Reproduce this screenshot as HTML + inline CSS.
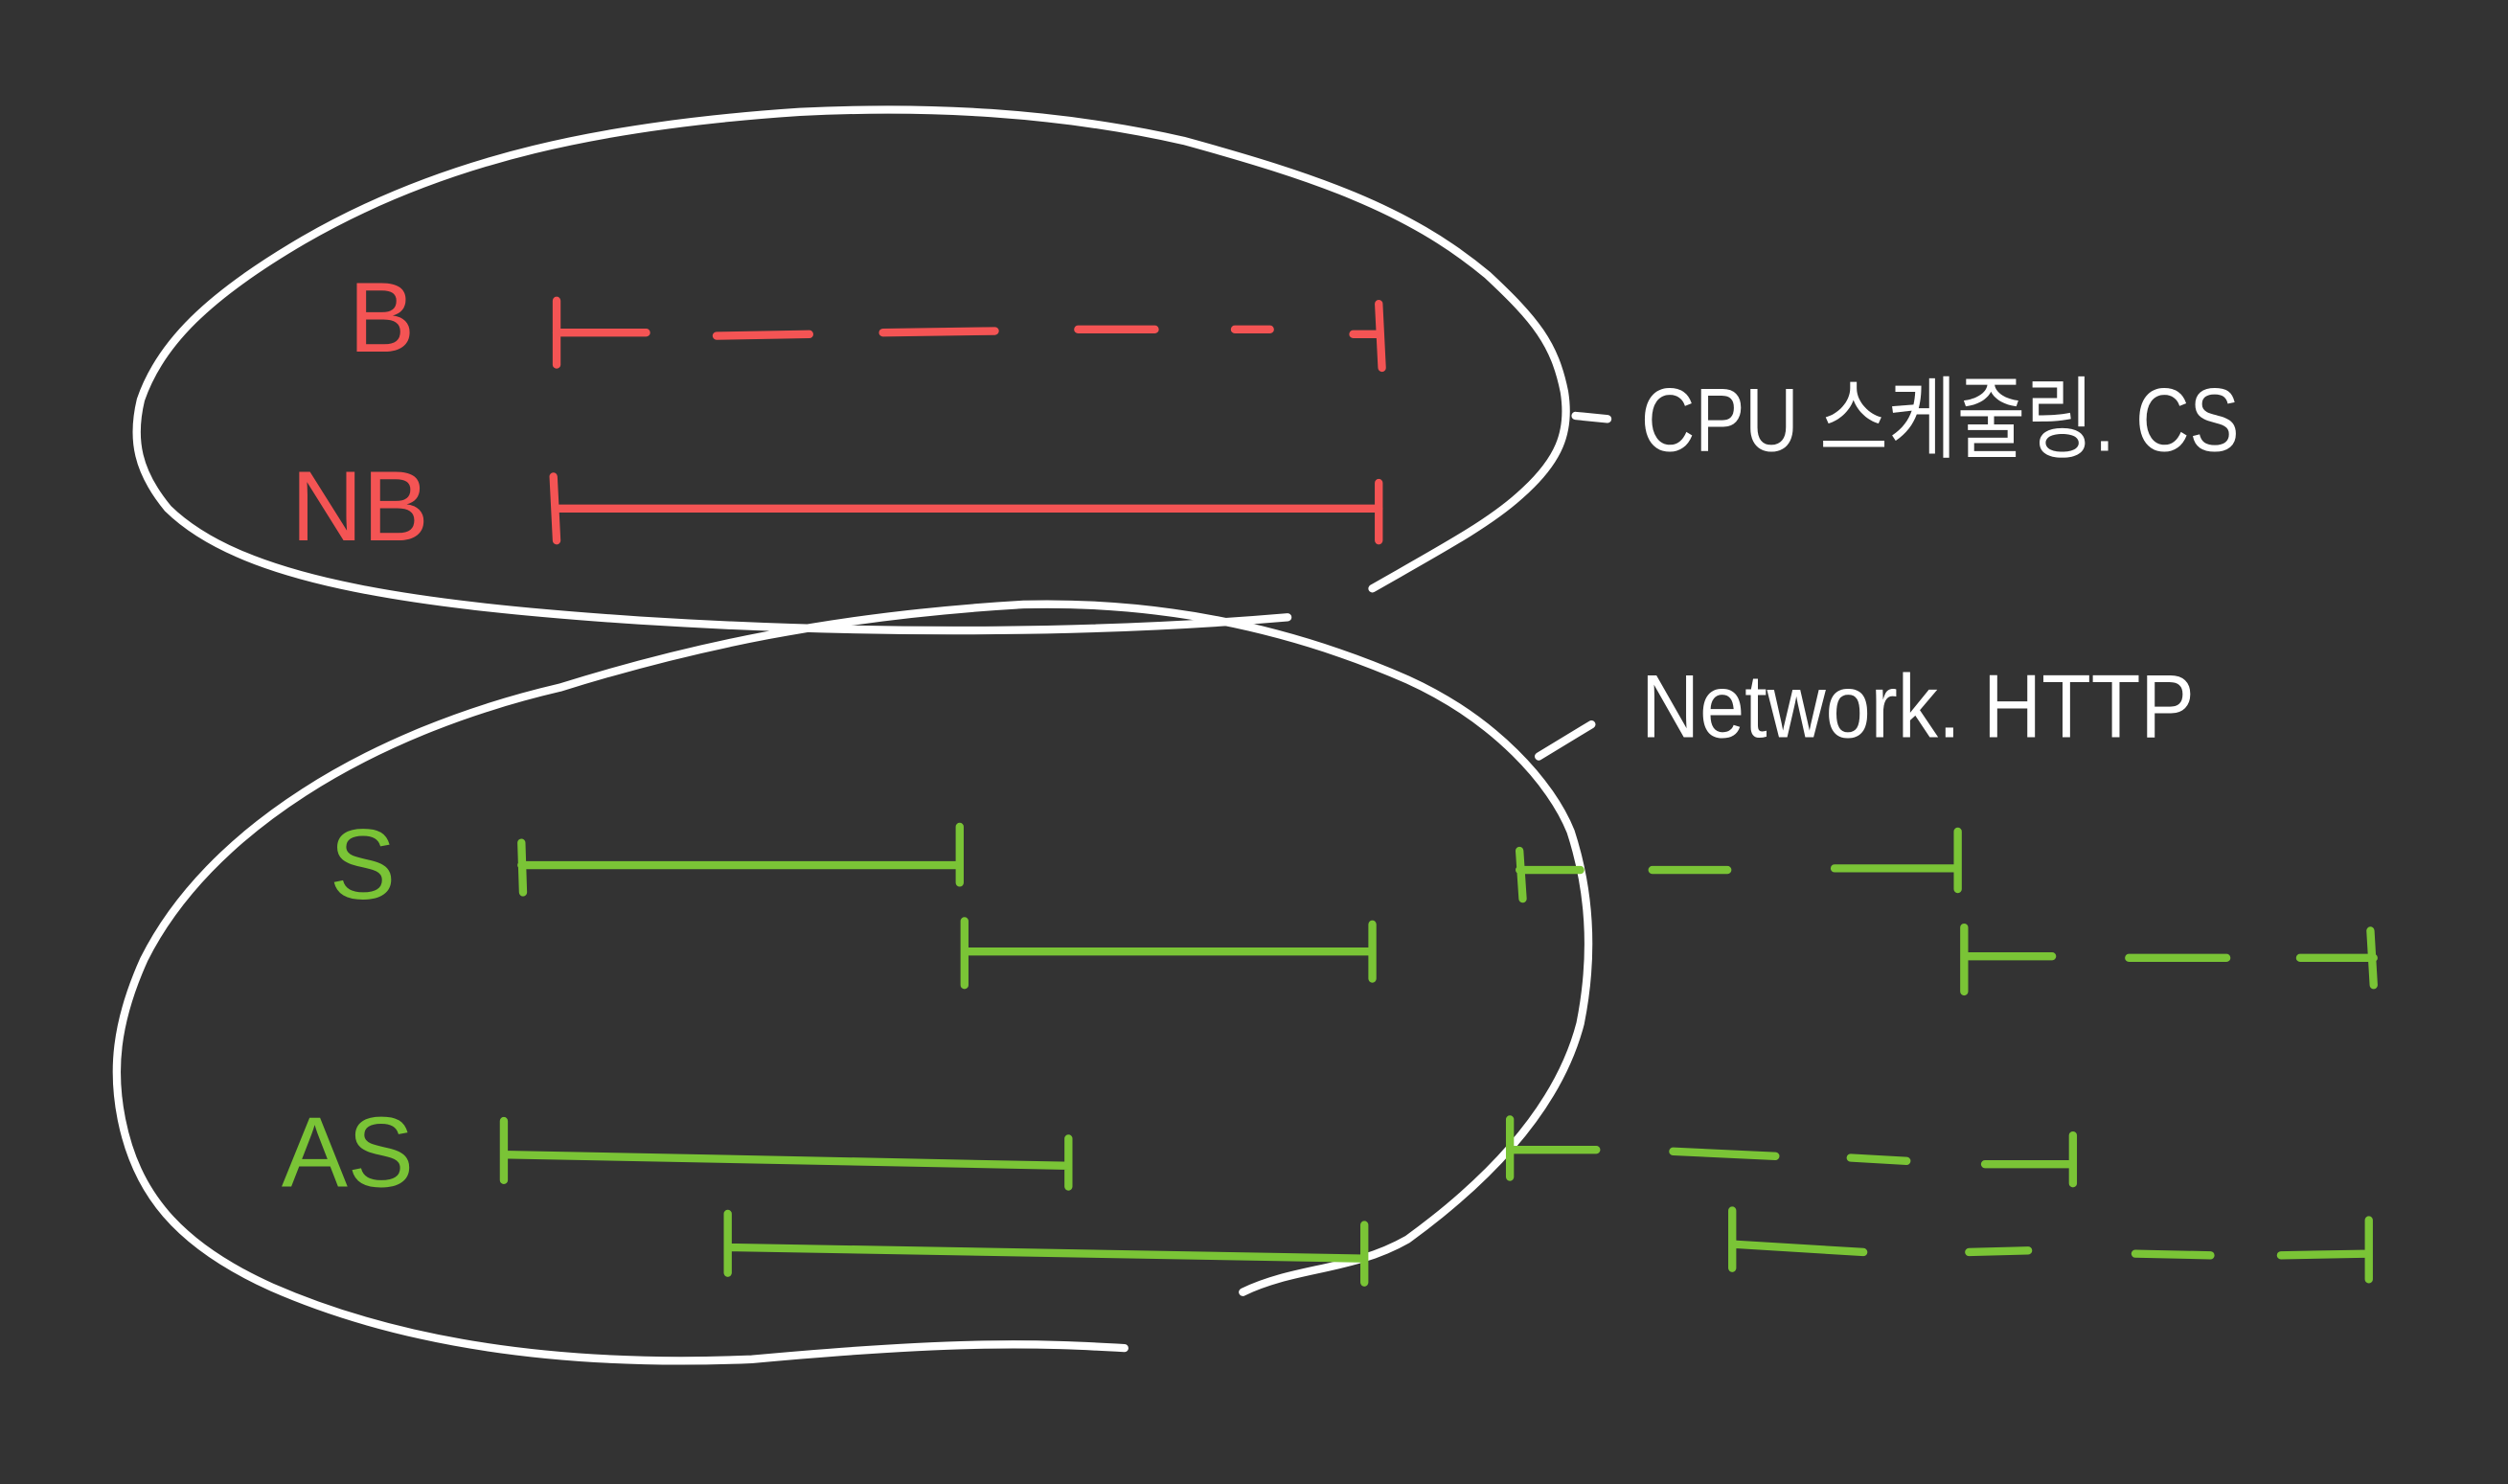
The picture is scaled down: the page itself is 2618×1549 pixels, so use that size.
<!DOCTYPE html>
<html><head><meta charset="utf-8"><style>
html,body{margin:0;padding:0;background:#333333;}
svg{display:block;}
</style></head><body>
<svg width="2618" height="1549" viewBox="0 0 1568 928" preserveAspectRatio="none" xmlns="http://www.w3.org/2000/svg">
<rect width="1568" height="928" fill="#333333"/>
<g fill="none" stroke="#ffffff" stroke-width="5" stroke-linecap="round" stroke-linejoin="round">
<path d="M858,368 C900,344 930,328 950,310 C975,288 982,270 978,245 C972,215 960,200 930,172 C880,130 820,110 740,88 C660,70 580,66 500,70 C380,78 280,98 190,150 C130,185 100,215 88,250 C82,275 86,295 105,318 C150,362 250,378 400,388 C560,398 700,395 805,386"/>
<path d="M703,843 C650,840 600,838 470,850 C350,855 250,840 170,805 C110,778 85,745 76,700 C70,670 72,640 90,600 C130,520 230,458 350,430 C430,405 520,385 640,378 C720,376 800,390 880,425 C935,450 970,490 982,520 C995,560 996,600 988,640 C975,690 935,735 880,775 C845,795 810,792 777,808"/>
<path d="M985,260 L1005,262"/>
<path d="M962,473 L995,453"/>
</g>
<g fill="none" stroke="#f45454" stroke-width="5" stroke-linecap="round">
<path d="M348,188 L348,228 M862,190 L864,230"/>
<path d="M348,208 L404,208 M448,210 L506,209 M552,208 L622,207 M674,206 L722,206 M772,206 L794,206 M846,209 L862,209"/>
<path d="M346,298 L348,338 M862,302 L862,338"/>
<path d="M348,318 L862,318"/>
</g>
<g fill="#f45454" font-family="Liberation Sans, sans-serif" font-size="62">
<text x="218" y="220">B</text>
<text x="182" y="338">NB</text>
</g>
<g fill="none" stroke="#7ac436" stroke-width="5" stroke-linecap="round">
<path d="M326,527 L327,558 M600,517 L600,552 M326,541 L600,541"/>
<path d="M603,576 L603,616 M858,578 L858,612 M603,595 L858,595"/>
<path d="M950,532 L952,562 M950,544 L988,544 M1033,544 L1080,544 M1147,543 L1224,543 M1224,520 L1224,556"/>
<path d="M1228,580 L1228,620 M1228,598 L1283,598 M1331,599 L1392,599 M1438,599 L1484,599 M1482,582 L1484,616"/>
<path d="M315,701 L315,738 M668,712 L668,742 M315,722 L668,729"/>
<path d="M455,759 L455,796 M853,766 L853,802 M455,780 L853,787"/>
<path d="M944,700 L944,736 M944,719 L998,719 M1046,720 L1110,723 M1157,724 L1192,726 M1241,728 L1296,728 M1296,710 L1296,740"/>
<path d="M1083,757 L1083,793 M1083,778 L1165,783 M1231,783 L1268,782 M1335,784 L1382,785 M1426,785 L1481,784 M1481,763 L1481,800"/>
</g>
<g fill="#7ac436" font-family="Liberation Sans, sans-serif" font-size="62">
<text x="206" y="562">S</text>
<text x="176" y="742">AS</text>
</g>
<g fill="#ffffff" font-family="Liberation Sans, 'Noto Sans CJK KR', sans-serif" font-size="56">
<text x="1026" y="282" textLength="374" lengthAdjust="spacingAndGlyphs">CPU 스케줄링. CS</text>
<text x="1026" y="461" textLength="346" lengthAdjust="spacingAndGlyphs">Network. HTTP</text>
</g>
</svg>
</body></html>
